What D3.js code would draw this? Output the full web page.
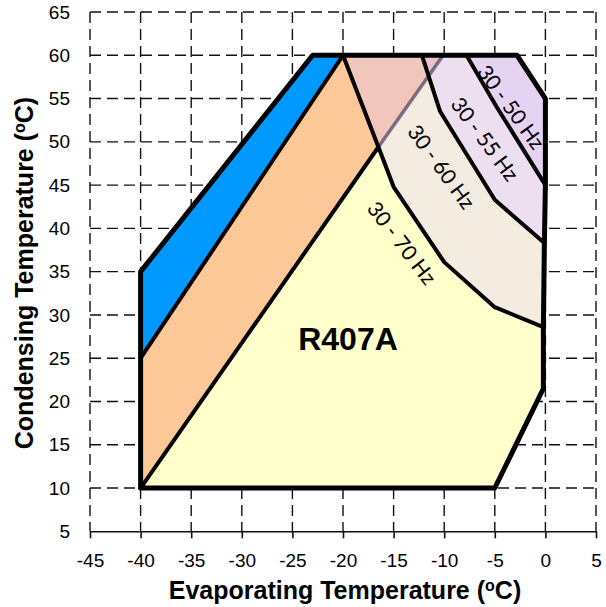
<!DOCTYPE html>
<html>
<head>
<meta charset="utf-8">
<script src="https://cdn.jsdelivr.net/npm/d3@7"></script>
<style>
  html, body { margin: 0; padding: 0; background: #fff; }
  svg { display: block; }
</style>
</head>
<body>
<svg id="chart" width="606" height="607"></svg>
<script>
// Axis ticks (°C)
const xTicks = [-45, -40, -35, -30, -25, -20, -15, -10, -5, 0, 5];
const yTicks = [5, 10, 15, 20, 25, 30, 35, 40, 45, 50, 55, 60, 65];

// Operating envelope corners [evaporating, condensing]
const envelope = [[-40, 10], [-40, 35], [-23, 60], [-2.8, 60], [0, 55], [0, 45],
                  [-0.1, 38.3], [-0.2, 28.6], [-0.2, 21.5], [-5, 10]];
// Upper band (blue) and middle band (orange) on the low-evaporating side
const blueZone = [[-40, 25], [-40, 35], [-23, 60], [-20, 60]];
const orangeZone = [[-40, 10], [-40, 25], [-20, 60], [-16.5, 49.4]];
// Frequency limit lines
const limit70 = [[-20, 60], [-16.5, 49.4], [-15, 44.8], [-10, 36.1], [-5, 30.9], [-0.2, 28.6]];
const limit60 = [[-12.2, 60], [-10.4, 53.5], [-5, 43.3], [-0.1, 38.3]];
const limit55 = [[-7.8, 60], [-4.8, 54], [0, 45]];
// Overlap wedge near the top
const overlapZone = [[-20, 60], [-10.1, 60], [-16.5, 49.4]];

const bandLabels = ["30 - 50 Hz", "30 - 55 Hz", "30 - 60 Hz", "30 - 70 Hz"];
const refrigerant = "R407A";

const svg = d3.select("#chart");
const x = d3.scaleLinear().domain([-45, 5]).range([90, 596]);
const y = d3.scaleLinear().domain([5, 65]).range([531.3, 12]);
const line = d3.line().x(d => x(d[0])).y(d => y(d[1]));
const area = pts => line(pts) + "Z";
const FONT = "'Liberation Sans', Arial, sans-serif";

// Dashed grid
const grid = svg.append("g").attr("stroke", "#111").attr("stroke-width", 1.4)
  .attr("stroke-dasharray", "11,6").attr("fill", "none");
grid.selectAll("line.v").data(xTicks).join("line").attr("class", "v")
  .attr("x1", d => x(d)).attr("x2", d => x(d)).attr("y1", y(65)).attr("y2", y(5));
grid.selectAll("line.h").data(yTicks.filter(d => d > 5)).join("line").attr("class", "h")
  .attr("x1", x(-45)).attr("x2", x(5)).attr("y1", d => y(d)).attr("y2", d => y(d));

// Regions
const yellowZone = [[-40, 10], ...limit70.slice(1), [-0.2, 21.5], [-5, 10]];
const zone60 = [[-20, 60], ...limit60, [-0.2, 28.6], ...limit70.slice().reverse().slice(1)];
const zone55 = [...limit60, ...limit55.slice().reverse()];
const zone50 = [[-7.8, 60], [-2.8, 60], [0, 55], [0, 45], [-4.8, 54]];

const regions = svg.append("g");
regions.append("path").attr("d", area(yellowZone)).attr("fill", "#ffffcc");
regions.append("path").attr("d", area(zone60)).attr("fill", "#f4ebe1");
regions.append("path").attr("d", area(zone55)).attr("fill", "#eddff0");
regions.append("path").attr("d", area(zone50)).attr("fill", "#e6d3f1");
regions.append("path").attr("d", area(orangeZone)).attr("fill", "#fdc897");
regions.append("path").attr("d", area(blueZone)).attr("fill", "#0099ff");
regions.append("path").attr("d", area(overlapZone))
  .attr("fill", "rgba(236,150,140,0.42)");
regions.append("path").attr("d", line([overlapZone[2], overlapZone[1]]))
  .attr("fill", "none").attr("stroke", "rgba(60,50,80,0.65)").attr("stroke-width", 3.5);

// Boundary lines
const edges = svg.append("g").attr("fill", "none").attr("stroke", "#000")
  .attr("stroke-linejoin", "round").attr("stroke-linecap", "round");
[[[-40, 25], [-20, 60]], [[-40, 10], [-16.5, 49.4]], limit70, limit60, limit55].forEach(pts => {
  edges.append("path").attr("d", line(pts)).attr("stroke-width", 4);
});
edges.append("path").attr("d", area(envelope)).attr("stroke-width", 5);

// Bottom axis
const xAxis = svg.append("g").attr("transform", `translate(0,${y(5)})`)
  .call(d3.axisBottom(x).tickValues(xTicks).tickFormat(d => String(d))
    .tickSize(7).tickSizeOuter(0).tickPadding(15));
xAxis.select(".domain").attr("stroke", "#111").attr("stroke-width", 1.6);
xAxis.selectAll(".tick line").attr("stroke", "#111").attr("stroke-width", 1.6);
xAxis.selectAll("text").attr("font-family", FONT).attr("font-size", 19).attr("fill", "#000");

// Left axis labels
const yAxis = svg.append("g").attr("transform", `translate(${x(-45)},0)`)
  .call(d3.axisLeft(y).tickValues(yTicks).tickFormat(d => String(d))
    .tickSize(0).tickPadding(20));
yAxis.select(".domain").remove();
yAxis.selectAll("text").attr("font-family", FONT).attr("font-size", 19).attr("fill", "#000");

// Axis titles
const xt = svg.append("text").attr("x", 345).attr("y", 599).attr("text-anchor", "middle")
  .attr("font-family", FONT).attr("font-size", 25).attr("font-weight", "bold");
xt.append("tspan").text("Evaporating Temperature (");
xt.append("tspan").text("o").attr("font-size", 16).attr("dy", -8);
xt.append("tspan").text("C)").attr("dy", 8);

const yt = svg.append("text").attr("transform", "translate(33,273) rotate(-90)")
  .attr("text-anchor", "middle").attr("font-family", FONT).attr("font-size", 25)
  .attr("font-weight", "bold");
yt.append("tspan").text("Condensing Temperature (");
yt.append("tspan").text("o").attr("font-size", 16).attr("dy", -8);
yt.append("tspan").text("C)").attr("dy", 8);

// Band labels, rotated along the bands
const labelSpots = [[-3.4, 54.0, 54], [-6.0, 50.3, 53.5], [-10.3, 47.1, 54], [-14.2, 38.3, 52.5]];
svg.append("g").selectAll("text").data(bandLabels).join("text")
  .attr("transform", (d, i) => `translate(${x(labelSpots[i][0])},${y(labelSpots[i][1])}) rotate(${labelSpots[i][2]})`)
  .attr("text-anchor", "middle").attr("dy", "0.35em")
  .attr("font-family", "Lato, 'Open Sans', sans-serif").attr("font-size", 21)
  .attr("fill", "#000").text(d => d);

// Refrigerant name
svg.append("text").attr("x", 348).attr("y", 350).attr("text-anchor", "middle")
  .attr("font-family", FONT).attr("font-size", 32).attr("font-weight", "bold")
  .text(refrigerant);
</script>
</body>
</html>
